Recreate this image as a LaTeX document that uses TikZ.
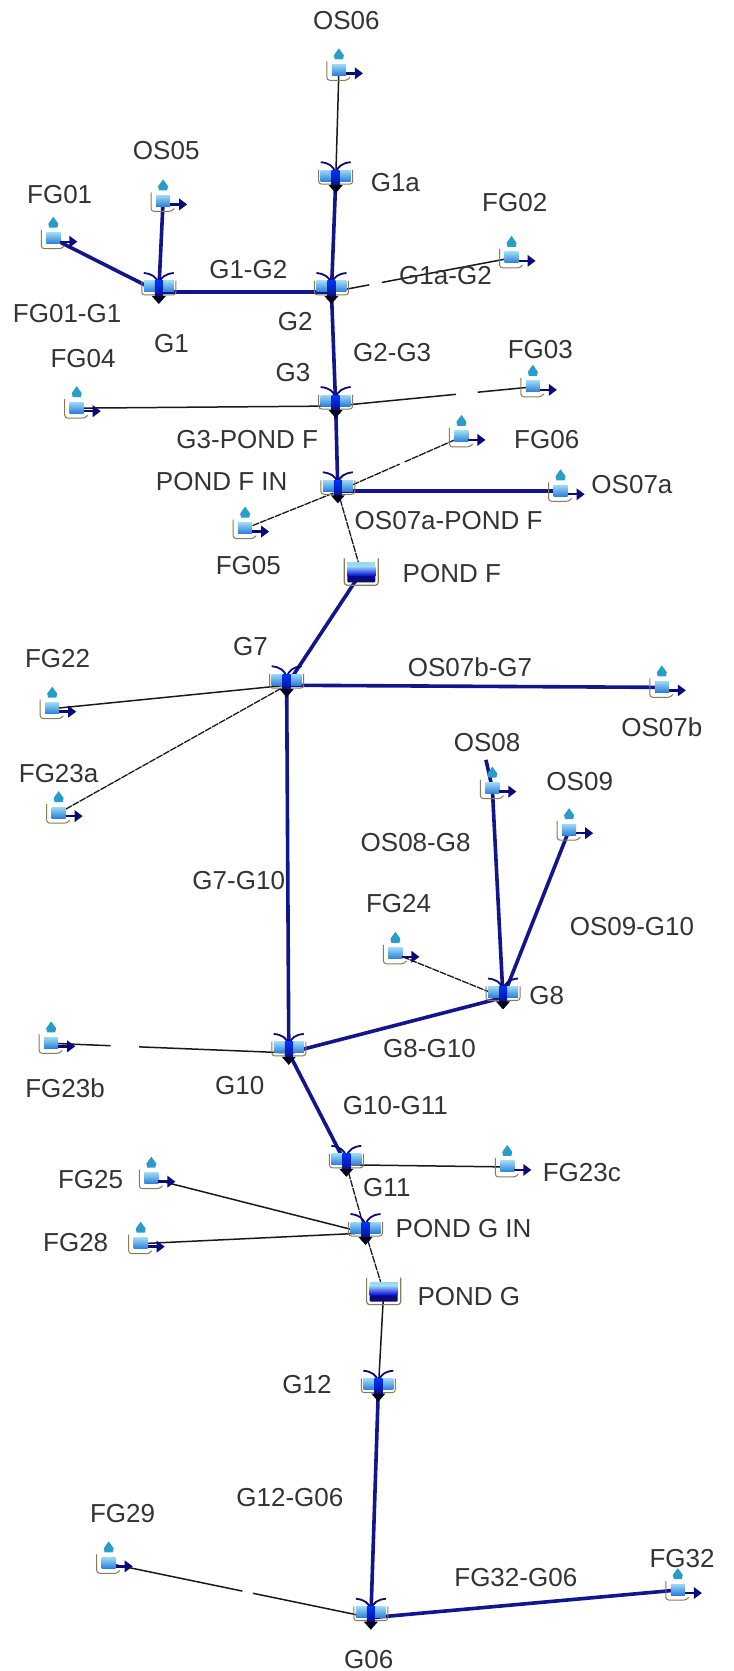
\documentclass[tikz,border=0pt]{standalone}
\usepackage{fontspec}
\setmainfont{Liberation Sans}
\usetikzlibrary{calc}
\pgfdeclarelayer{links}
\pgfsetlayers{links,main}
\definecolor{linkblue}{HTML}{14148C}
\definecolor{navy}{HTML}{0A0A78}
\definecolor{basin}{HTML}{8A7A55}
\definecolor{waterlight}{HTML}{9AD8F5}
\definecolor{waterdeep}{HTML}{2C7FD8}
\definecolor{drop}{HTML}{2A9CC8}
\tikzset{
  lab/.style={font=\fontsize{26}{26}\selectfont, text=black!80, inner sep=0pt},
  iconbox/.style={inner sep=0pt, minimum size=14pt},
  thicklink/.style={draw=linkblue, line width=3.6pt},
  thinlink/.style={draw=black!90, line width=1.5pt},
  dotlink/.style={thinlink, line width=1.3pt, dash pattern=on 7pt off 1pt}
}
% catchment icon: drop over a small basin, arrow to the right
\newcommand{\catchicon}[2]{
  \node[iconbox] (#1) at (#2) {};
  \begin{scope}[shift={(#1.center)}, x=1pt, y=-1pt]
    \shade[top color=waterlight, bottom color=waterdeep] (-7,-6) rectangle (7,5);
    \draw[basin, line width=1pt, rounded corners=3pt] (-12,-9) -- (-12,10) -- (9,10) -- (11,7);
    \fill[drop] (0,-22) -- (5,-15) -- (4,-11) -- (-4,-11) -- (-5,-15) -- cycle;
    \draw[navy, line width=2.4pt] (7,3) -- (18,3);
    \fill[navy] (16,-3) -- (24,3) -- (16,9) -- cycle;
  \end{scope}
}
% junction icon: basin with a funnel and an arrow below
\newcommand{\junctionicon}[2]{
  \node[iconbox] (#1) at (#2) {};
  \begin{scope}[shift={(#1.center)}, x=1pt, y=-1pt]
    \shade[top color=waterlight, bottom color=waterdeep] (-15,-11) rectangle (15,0);
    \draw[basin, line width=1pt, rounded corners=3pt] (-17,-11) -- (-17,3) -- (17,3) -- (17,-11);
    \draw[navy, line width=1.8pt] (-15,-19) .. controls (-6,-18) and (-3,-15) .. (0,-9);
    \draw[navy, line width=1.8pt] (15,-19) .. controls (6,-18) and (3,-15) .. (0,-9);
    \shade[top color=blue!80!cyan, bottom color=navy] (-4,-11) rectangle (4,7);
    \fill[black!80!navy] (-7,4) -- (7,4) -- (0,12) -- cycle;
  \end{scope}
}
% pond icon: open tank with shaded water
\newcommand{\pondicon}[2]{
  \node[iconbox] (#1) at (#2) {};
  \begin{scope}[shift={(#1.center)}, x=1pt, y=-1pt]
    \fill[waterlight] (-14,-10) rectangle (14,-6);
    \shade[top color=waterlight, bottom color=blue!85!black] (-14,-6) rectangle (14,4);
    \fill[navy, rounded corners=1pt] (-14,4) rectangle (14,10);
    \draw[basin, line width=1.2pt, rounded corners=3pt] (-17,-14) -- (-17,13) -- (17,13) -- (17,-14);
  \end{scope}
}
\begin{document}
\begin{tikzpicture}[x=1.0654pt, y=-1.0654pt]
      \useasboundingbox (0, 0) rectangle (688, 1568);

      \catchicon{OS06}{318, 66}
      \catchicon{OS05}{153, 189}
      \catchicon{FG01}{50, 224}
      \catchicon{FG02}{480, 242}
      \catchicon{FG03}{500, 363}
      \catchicon{FG04}{72, 383}
      \catchicon{FG06}{433, 410}
      \catchicon{OS07a}{526, 461}
      \catchicon{FG05}{230, 496}
      \catchicon{FG22}{49, 665}
      \catchicon{OS07b}{621, 645}
      \catchicon{FG23a}{55, 763}
      \catchicon{OS08}{462, 740}
      \catchicon{OS09}{534, 779}
      \catchicon{FG24}{371, 895}
      \catchicon{FG23b}{48, 979}
      \catchicon{FG23c}{476, 1095}
      \catchicon{FG25}{142, 1106}
      \catchicon{FG28}{132, 1167}
      \catchicon{FG29}{102, 1467}
      \catchicon{FG32}{636, 1492}

      \junctionicon{G1a}{315, 170}
      \junctionicon{G1}{149, 274}
      \junctionicon{G2}{311, 274}
      \junctionicon{G3}{315, 381}
      \junctionicon{PFIN}{317, 461}
      \junctionicon{G7}{269, 643}
      \junctionicon{G10}{271, 988}
      \junctionicon{G8}{472, 936}
      \junctionicon{G11}{325, 1093}
      \junctionicon{PGIN}{343, 1157}
      \junctionicon{G12}{355, 1304}
      \junctionicon{G06}{348, 1518}

      \pondicon{PF}{339, 537}
      \pondicon{PG}{360, 1212}

      \coordinate (OS08top) at (456, 713);

      \begin{pgfonlayer}{links}
      \draw[thicklink] (FG01.center) -- (G1.center);
      \draw[thicklink] (OS05.center) -- (G1.center);
      \draw[thicklink] (G1.center) -- (G2.center);
      \draw[thicklink] (G1a.center) -- (G2.center);
      \draw[thicklink] (G2.center) -- (G3.center);
      \draw[thicklink] (G3.center) -- (PFIN.center);
      \draw[thicklink] (OS07a.center) -- (PFIN.center);
      \draw[thicklink] (PF.center) -- (G7.center);
      \draw[thicklink] (OS07b.center) -- (G7.center);
      \draw[thicklink] (G7.center) -- (G10.center);
      \draw[thicklink] (OS08.center) -- (G8.center);
      \draw[thicklink] (OS08.center) -- (OS08top);
      \draw[thicklink] (OS09.center) -- (G8.center);
      \draw[thicklink] (G8.center) -- (G10.center);
      \draw[thicklink] (G10.center) -- (G11.center);
      \draw[thicklink] (G12.center) -- (G06.center);
      \draw[thicklink] (FG32.center) -- (G06.center);

      \draw[thinlink] (OS06.center) -- (G1a.center);
      \draw[thinlink] (FG04.center) -- (G3.center);
      \draw[dotlink] (FG05.center) -- (PFIN.center);
      \draw[dotlink] (PFIN.center) -- (PF.center);
      \draw[thinlink] (FG22.center) -- (G7.center);
      \draw[dotlink] (FG23a.center) -- (G7.center);
      \draw[dotlink] (FG24.center) -- (G8.center);
      \draw[thinlink] (FG23c.center) -- (G11.center);
      \draw[thinlink] (FG25.center) -- (PGIN.center);
      \draw[thinlink] (FG28.center) -- (PGIN.center);
      \draw[dotlink] (G11.center) -- (PGIN.center);
      \draw[dotlink] (PGIN.center) -- (PG.center);
      \draw[thinlink] (PG.center) -- (G12.center);
      % these links are broken in the source picture
      \draw[thinlink] (G2.center) -- ($(G2)!.21!(FG02)$) ($(G2)!.28!(FG02)$) -- (FG02.center);
      \draw[thinlink] (G3.center) -- ($(G3)!.61!(FG03)$) ($(G3)!.72!(FG03)$) -- (FG03.center);
      \draw[dotlink] (PFIN.center) -- ($(PFIN)!.5!(FG06)$) ($(PFIN)!.54!(FG06)$) -- (FG06.center);
      \draw[thinlink] (FG23b.center) -- ($(FG23b)!.25!(G10)$) ($(FG23b)!.37!(G10)$) -- (G10.center);
      \draw[thinlink] (FG29.center) -- ($(FG29)!.51!(G06)$) ($(FG29)!.55!(G06)$) -- (G06.center);
      \end{pgfonlayer}

      \node[lab] (lOS06) at (325, 19) {OS06};
      \node[lab] (lOS05) at (156, 141) {OS05};
      \node[lab] (lFG01) at (56, 183) {FG01};
      \node[lab] (lFG01G1) at (63, 294) {FG01-G1};
      \node[lab] (lG1) at (161, 322) {G1};
      \node[lab] (lG1G2) at (233, 253) {G1-G2};
      \node[lab] (lG2) at (277, 302) {G2};
      \node[lab] (lG1a) at (371, 171) {G1a};
      \node[lab] (lG1aG2) at (418, 259) {G1a-G2};
      \node[lab] (lFG02) at (483, 190) {FG02};
      \node[lab] (lG2G3) at (368, 331) {G2-G3};
      \node[lab] (lFG04) at (78, 336) {FG04};
      \node[lab] (lG3) at (275, 350) {G3};
      \node[lab] (lFG03) at (507, 328) {FG03};
      \node[lab] (lG3PF) at (232, 412) {G3-POND F};
      \node[lab] (lFG06) at (513, 412) {FG06};
      \node[lab] (lPFIN) at (208, 452) {POND F IN};
      \node[lab] (lOS07a) at (593, 455) {OS07a};
      \node[lab] (lOS07aPF) at (421, 488) {OS07a-POND F};
      \node[lab] (lFG05) at (233, 531) {FG05};
      \node[lab] (lPF) at (424, 538) {POND F};
      \node[lab] (lG7) at (235, 607) {G7};
      \node[lab] (lFG22) at (54, 618) {FG22};
      \node[lab] (lOS07bG7) at (441, 626) {OS07b-G7};
      \node[lab] (lOS07b) at (621, 682) {OS07b};
      \node[lab] (lFG23a) at (55, 726) {FG23a};
      \node[lab] (lOS08) at (457, 697) {OS08};
      \node[lab] (lOS09) at (544, 733) {OS09};
      \node[lab] (lOS08G8) at (390, 791) {OS08-G8};
      \node[lab] (lG7G10) at (224, 826) {G7-G10};
      \node[lab] (lFG24) at (374, 848) {FG24};
      \node[lab] (lOS09G10) at (593, 869) {OS09-G10};
      \node[lab] (lG8) at (513, 934) {G8};
      \node[lab] (lFG23b) at (61, 1021) {FG23b};
      \node[lab] (lG10) at (225, 1019) {G10};
      \node[lab] (lG8G10) at (403, 984) {G8-G10};
      \node[lab] (lG10G11) at (371, 1037) {G10-G11};
      \node[lab] (lG11) at (363, 1114) {G11};
      \node[lab] (lFG23c) at (546, 1100) {FG23c};
      \node[lab] (lFG25) at (85, 1107) {FG25};
      \node[lab] (lPGIN) at (435, 1153) {POND G IN};
      \node[lab] (lFG28) at (71, 1166) {FG28};
      \node[lab] (lPG) at (440, 1217) {POND G};
      \node[lab] (lG12) at (288, 1299) {G12};
      \node[lab] (lG12G06) at (272, 1405) {G12-G06};
      \node[lab] (lFG29) at (115, 1420) {FG29};
      \node[lab] (lFG32G06) at (484, 1480) {FG32-G06};
      \node[lab] (lFG32) at (640, 1462) {FG32};
      \node[lab] (lG06) at (346, 1557) {G06};
    \end{tikzpicture}
\end{document}
